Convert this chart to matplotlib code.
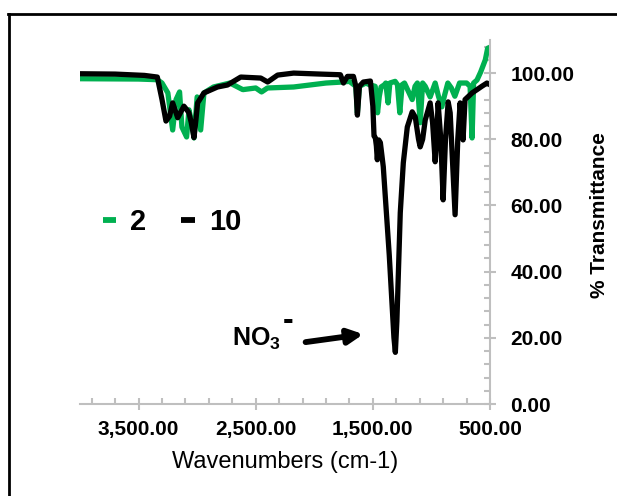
import numpy as np
import matplotlib
matplotlib.use("Agg")
import matplotlib.pyplot as plt
from matplotlib.ticker import FixedLocator, MultipleLocator, FuncFormatter
from matplotlib.lines import Line2D

plt.rcParams['font.family'] = ['Liberation Sans', 'DejaVu Sans']
plt.rcParams['mathtext.fontset'] = 'custom'
plt.rcParams['mathtext.rm'] = 'Liberation Sans'
plt.rcParams['mathtext.bf'] = 'Liberation Sans:bold'

# ---- data ----
wn_10 = [4000, 3700, 3450, 3340, 3300, 3266, 3235, 3209, 3166, 3113, 3090, 3070, 3050,
         3027, 3010, 2996, 2942, 2826, 2741, 2628, 2457, 2398, 2313, 2176, 1947, 1777,
         1751, 1717, 1666, 1645, 1632, 1615, 1581, 1521, 1500, 1490, 1479, 1470, 1462,
         1450, 1436, 1411, 1360, 1320, 1308, 1295, 1266, 1240, 1206, 1164, 1138, 1110,
         1096, 1075, 1053, 1011, 990, 968, 955, 943, 920, 900, 880, 857, 840, 798, 775,
         755, 730, 713, 653, 611, 570, 526, 500]
t_10 = [99.8, 99.7, 99.3, 98.8, 92, 85.5, 87, 91, 86.5, 90, 89, 88, 85,
        80.5, 86, 91, 94, 95.8, 96.4, 98.8, 98.5, 97.3, 99.4, 100, 99.7, 99.5,
        97, 99, 99, 96, 87.3, 96, 97.3, 97.6, 90, 81, 80.5, 78, 73.8,
        79.8, 79, 71.7, 45, 20, 15.6, 25, 57.8, 72.9, 83.7, 88.3, 86.7, 80,
        77.7, 80, 85.8, 91, 85, 73.2, 80, 91, 80, 61.7, 80, 91.3, 88, 57.2, 80,
        91, 79.8, 92, 94, 95, 96, 97, 96.5]

wn_2 = [4000, 3500, 3340, 3300, 3250, 3209, 3180, 3150, 3130, 3090, 3070, 3040, 3027,
        3000, 2970, 2942, 2860, 2720, 2610, 2500, 2450, 2400, 2176, 1900, 1760, 1700,
        1645, 1632, 1615, 1560, 1530, 1480, 1460, 1445, 1430, 1400, 1390, 1370, 1355,
        1310, 1290, 1270, 1250, 1230, 1164, 1140, 1120, 1096, 1075, 1053, 1011, 968,
        940, 911, 890, 860, 830, 800, 760, 700, 670, 653, 640, 611, 580, 540, 520, 500]
t_2 = [98.3, 98.2, 98.0, 97, 94, 82.8, 92, 94.3, 83.7, 80.7, 88.9, 84, 80.4,
       92.8, 82.8, 94, 95.8, 97, 95, 95.5, 94.3, 95.5, 95.8, 97, 97.3, 97.5,
       96, 88, 96, 97, 96.5, 96, 88, 93, 95.8, 96.5, 97, 91, 97,
       97.5, 96.5, 88, 96.5, 97, 92, 96, 97, 85, 97, 96, 92.8, 97,
       93, 89.8, 93, 97, 95.5, 93, 97, 97, 96, 80.4, 97, 97.9, 100.3, 104, 107.5, 107.8]

labels = ["2", "10"]
colors = ["#00B050", "#000000"]

x_major = [3500, 2500, 1500, 500]

# ---- figure ----
fig = plt.figure(figsize=(6.17, 4.96), dpi=100)
ax = fig.add_axes([80/617, 1-404/496, 410/617, 364/496])

ax.plot(wn_2, t_2, color=colors[0], lw=3.8, label=labels[0], solid_joinstyle='round')
ax.plot(wn_10, t_10, color=colors[1], lw=3.8, label=labels[1], solid_joinstyle='round')

ax.set_xlim(4000, 500)
ax.set_ylim(0, 110)

grey = '#BFBFBF'
for s in ['top', 'left']:
    ax.spines[s].set_visible(False)
for s in ['right', 'bottom']:
    ax.spines[s].set_color(grey)
    ax.spines[s].set_linewidth(1.5)

ax.yaxis.tick_right()
ax.xaxis.set_major_locator(FixedLocator(x_major))
ax.xaxis.set_minor_locator(FixedLocator(np.arange(500, 4001, 200)))
ax.yaxis.set_major_locator(FixedLocator(np.arange(0, 101, 20)))
ax.yaxis.set_minor_locator(MultipleLocator(4))
fmt = FuncFormatter(lambda v, p: f"{v:,.2f}")
ax.xaxis.set_major_formatter(fmt)
ax.yaxis.set_major_formatter(fmt)

ax.tick_params(axis='both', which='major', direction='inout', length=9, width=1.5,
               color=grey, labelsize=15)
ax.tick_params(axis='both', which='minor', direction='in', length=4, width=1.5, color=grey)
ax.tick_params(axis='x', which='major', pad=7)
ax.tick_params(axis='y', which='major', pad=10)
for lab in ax.get_xticklabels() + ax.get_yticklabels():
    lab.set_fontweight('bold')

ax.set_xlabel("Wavenumbers (cm-1)", fontsize=17, labelpad=9)
ax.text(1.268, 0.52, "% Transmittance", transform=ax.transAxes, rotation=90,
        ha='center', va='center', fontsize=15, fontweight='bold')

leg = ax.legend(loc='center left', bbox_to_anchor=(0.055, 0.5), ncol=2, frameon=False,
                handlelength=0.45, handletextpad=0.5, columnspacing=1.2,
                borderaxespad=0, borderpad=0,
                prop={'weight': 'bold', 'size': 21})
for h in leg.legend_handles:
    h.set_linewidth(4.2)
    h.set_solid_capstyle('butt')

ax.text(2287, 17.5, r"$\mathbf{NO}_{\mathbf{3}}$", ha='right', va='baseline', fontsize=18)
ax.text(2223, 25.0, "-", ha='center', va='center', fontsize=23, fontweight='bold')
ax.annotate("", xy=(1581, 21.1), xytext=(2074, 18.7),
            arrowprops=dict(arrowstyle='-|>', lw=4.2, color='k', mutation_scale=22,
                            shrinkA=0, shrinkB=0))

fig.add_artist(Line2D([8/617, 1], [1-14/496, 1-14/496], color='k', lw=2))
fig.add_artist(Line2D([9/617, 9/617], [0, 1-14/496], color='k', lw=2))

fig.savefig("out.png", dpi=100)
